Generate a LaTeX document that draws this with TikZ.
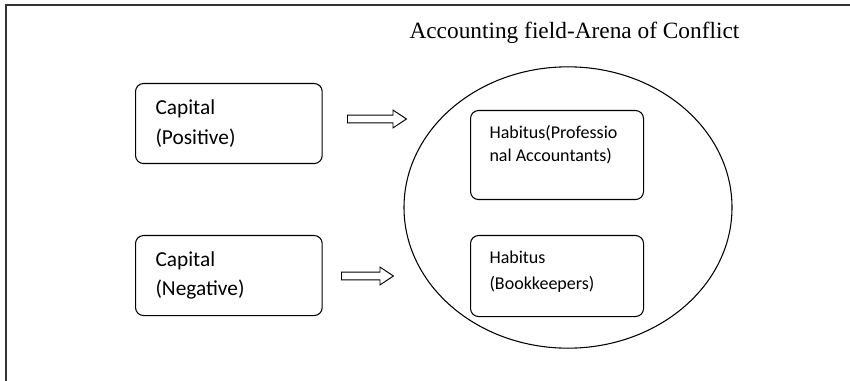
\documentclass[tikz,border=0pt]{standalone}
\usepackage{fontspec}
\setmainfont{Liberation Serif}
\newfontfamily\boxfont{Carlito}
\usepackage{tikz}
\usetikzlibrary{positioning}
\usetikzlibrary{shapes.geometric}
\usetikzlibrary{shapes.arrows}

\begin{document}
\begin{tikzpicture}[
	x=0.75pt, y=-0.75pt,
	line width=0.8pt
]
\tikzset{
    myrect/.style = {rectangle, draw=black, rounded corners=6pt, anchor=north west, minimum width=140pt, minimum height=60pt},
    inrect/.style = {rectangle, draw=black, rounded corners=6pt, anchor=north west, minimum width=129.75pt},
    mytext/.style = {align=left, anchor=base west, inner sep=0pt},
    myarrow/.style = {single arrow, draw=black, line width=0.7pt, inner sep=2.6pt, single arrow head extend=3.75pt, single arrow tip angle=67, anchor=west}
}
\useasboundingbox (0,0) rectangle (850,381);
% frame
\draw[line width=1.4pt, black!80] (6,381) -- (6,5) -- (850,5);
\node[mytext, font=\fontsize{17.5}{21}\selectfont] (title) at (409,39) {Accounting field-Arena of Conflict};
% field
\node[ellipse, draw=black, minimum width=246pt, minimum height=211pt] (arena) at (568,207.5) {};
% capital (text placed at its last baseline)
\node[myrect] (cappos) at (135,83) {};
\node[mytext, font=\boxfont\fontsize{16}{22.5}\selectfont] (cappostxt) at (155,145) {Capital\\(Positive)};
\node[myrect] (capneg) at (135,235) {};
\node[mytext, font=\boxfont\fontsize{16}{21}\selectfont] (capnegtxt) at (155,295) {Capital\\(Negative)};
\node[myarrow, minimum height=44.25pt] (arrpos) at (347,119) {};
\node[myarrow, minimum height=39pt] (arrneg) at (341,276) {};
% habitus
\node[inrect, minimum height=66.75pt] (habprof) at (470,110) {};
\node[mytext, font=\boxfont\fontsize{13.5}{17.25}\selectfont] (habproftxt) at (489,162) {Habitus(Professio\\nal Accountants)};
\node[inrect, minimum height=60.75pt] (habbook) at (470,235) {};
\node[mytext, font=\boxfont\fontsize{13.5}{19.5}\selectfont] (habbooktxt) at (489,289) {Habitus\\(Bookkeepers)};
\end{tikzpicture}
\end{document}
